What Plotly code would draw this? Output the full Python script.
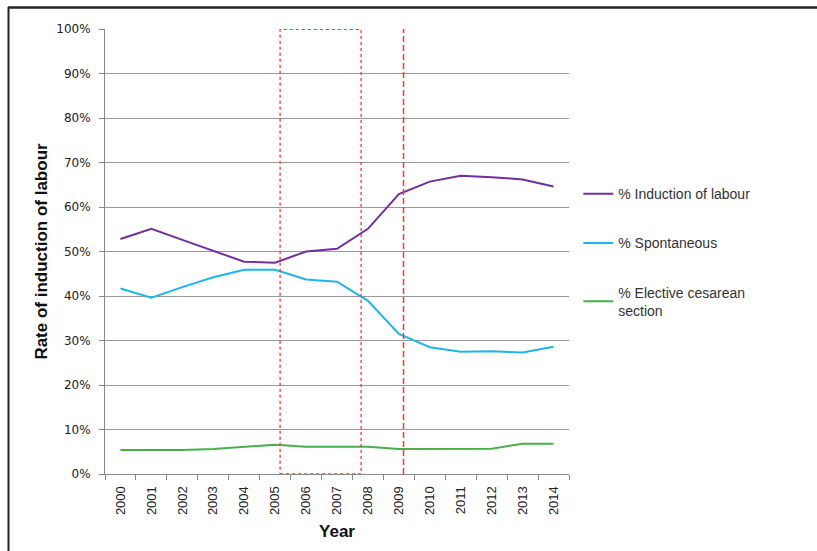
import plotly.graph_objects as go

years = [str(y) for y in range(2000, 2015)]
induction = [52.8, 55.1, 52.6, 50.2, 47.7, 47.5, 50.0, 50.6, 55.1, 62.9, 65.7, 67.0, 66.7, 66.2, 64.6]
spontaneous = [41.7, 39.6, 42.0, 44.2, 45.9, 45.9, 43.7, 43.2, 38.9, 31.5, 28.5, 27.5, 27.6, 27.3, 28.6]
elective = [5.4, 5.4, 5.4, 5.6, 6.1, 6.6, 6.1, 6.1, 6.1, 5.6, 5.6, 5.6, 5.7, 6.8, 6.8]
y_ticks = [0, 10, 20, 30, 40, 50, 60, 70, 80, 90, 100]

series = [
    ("% Induction of labour", induction, "#7030A0"),
    ("% Spontaneous", spontaneous, "#1CB6EC"),
    ("% Elective cesarean<br>section", elective, "#47B04B"),
]

x_idx = list(range(len(years)))
fig = go.Figure()
for i, (name, vals, col) in enumerate(series):
    fig.add_trace(go.Scatter(
        x=x_idx, y=vals, mode="lines", name=name,
        line=dict(color=col, width=2), legendgroup=str(i),
    ))

# highlight box (2005-2008) and dashed marker (2009)
fig.add_shape(type="rect", xref="x", yref="y", x0=5.16, x1=7.78, y0=0, y1=99.9,
              line=dict(color="#FF3030", width=1.3, dash="dot"))
fig.add_shape(type="line", xref="x", yref="y", x0=9.15, x1=9.15, y0=0, y1=100,
              line=dict(color="#FF3535", width=1.5, dash="6px,3px"))
# outer border (top and left only visible)
fig.add_shape(type="line", xref="paper", yref="paper",
              x0=-97/464, x1=(817-105)/464, y0=1+21.5/445, y1=1+21.5/445,
              line=dict(color="#222222", width=2.5))
fig.add_shape(type="line", xref="paper", yref="paper",
              x0=-96.5/464, x1=-96.5/464, y0=-(551-474)/445, y1=1+22/445,
              line=dict(color="#222222", width=2))

fig.update_layout(
    width=817, height=551,
    margin=dict(l=105, r=248, t=29, b=77, autoexpand=False),
    paper_bgcolor="white", plot_bgcolor="white",
    font=dict(family="Liberation Sans, Arial, sans-serif", color="#222222"),
    showlegend=True,
    legend=dict(x=1.02, y=0.665, xanchor="left", yanchor="top",
                font=dict(size=14, family="Liberation Sans, Arial", color="#333333"),
                tracegroupgap=28, traceorder="grouped", itemwidth=30,
                bgcolor="rgba(0,0,0,0)"),
    xaxis=dict(
        range=[-0.5, 14.5], tickmode="array", tickvals=x_idx, ticktext=years,
        tickangle=-90, ticks="", showgrid=False, zeroline=False, automargin=False,
        showline=True, linecolor="#888888", linewidth=1, ticklabelstandoff=6,
        tickfont=dict(size=13, family="Liberation Sans, Arial", color="#222222"),
        minor=dict(tick0=-0.5, dtick=1, ticks="outside", ticklen=5, tickcolor="#888888", showgrid=False),
        title=dict(text="<b>Year</b>", font=dict(size=17, family="Liberation Sans, Arial", color="#111111"), standoff=10),
    ),
    yaxis=dict(
        range=[0, 100], tickmode="array", tickvals=y_ticks,
        ticktext=[f"{v}%" for v in y_ticks],
        ticks="outside", ticklen=5, tickcolor="#888888", automargin=False,
        showgrid=True, gridcolor="#9A9A9A", gridwidth=1, zeroline=False,
        showline=True, linecolor="#888888", linewidth=1, ticklabelstandoff=6,
        tickfont=dict(size=12, family="DejaVu Sans, Verdana", color="#222222"),
        title=dict(text="<b>Rate of induction of labour</b>", font=dict(size=17, family="Liberation Sans, Arial", color="#111111"), standoff=4),
    ),
)

fig.write_html("out.html", config={"displayModeBar": False},
               post_script="document.body.style.margin='0';document.body.style.overflow='hidden';")
